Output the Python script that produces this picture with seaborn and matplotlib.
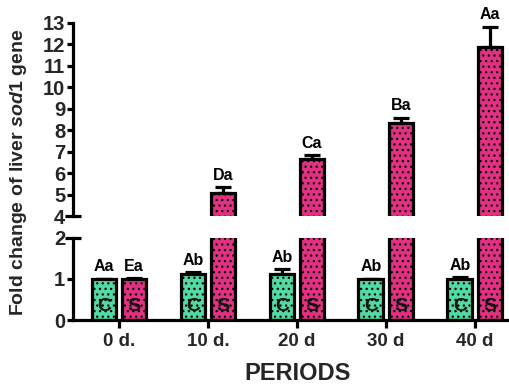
import numpy as np
import pandas as pd
import matplotlib
matplotlib.use("Agg")
import matplotlib.pyplot as plt
import seaborn as sns

# ---- data ----
periods = ["0 d.", "10 d.", "20 d", "30 d", "40 d"]
groups = ["C", "S"]
c_means = [1.00, 1.11, 1.11, 1.00, 1.00]
c_errs = [0.01, 0.06, 0.14, 0.01, 0.05]
s_means = [1.00, 5.05, 6.66, 8.35, 11.87]
s_errs = [0.02, 0.30, 0.20, 0.24, 0.96]
c_letters = ["Aa", "Ab", "Ab", "Ab", "Ab"]
s_letters = ["Ea", "Da", "Ca", "Ba", "Aa"]
upper_ticks = [5, 6, 7, 8, 9, 10, 11, 12, 13]
lower_ticks = [0, 1]

sns.set_theme(style="white")
plt.rcParams["font.family"] = ["Liberation Sans", "DejaVu Sans"]
plt.rcParams["font.weight"] = "bold"
plt.rcParams["mathtext.fontset"] = "custom"
plt.rcParams["mathtext.it"] = "Liberation Sans:bold:italic"
plt.rcParams["mathtext.rm"] = "Liberation Sans:bold"
plt.rcParams["hatch.linewidth"] = 0.9

df = pd.DataFrame({
    "period": periods * 2,
    "group": ["C"] * 5 + ["S"] * 5,
    "value": c_means + s_means,
})
palette = {"C": "#3cf0a8", "S": "#ff1480"}

W, H = 510, 387
fig = plt.figure(figsize=(W / 100, H / 100), dpi=100)
left = 73 / W
right = 507 / W
ax_up = fig.add_axes([left, 1 - 216 / H, right - left, (216 - 23) / H])
ax_lo = fig.add_axes([left, 1 - 320 / H, right - left, (320 - 238) / H])

lw = 2.3
for ax in (ax_up, ax_lo):
    sns.barplot(data=df, x="period", y="value", hue="group", palette=palette,
                width=0.675, gap=0.17, edgecolor="black", linewidth=lw,
                errorbar=None, legend=False, ax=ax, zorder=2)
    for p in ax.patches:
        p.set_hatch("...")
    ax.set_xlim(-0.517, 4.36)
    ax.set_xlabel("")
    ax.set_ylabel("")
    for s in ("top", "right"):
        ax.spines[s].set_visible(False)
    ax.spines["left"].set_linewidth(lw)
    ax.spines["bottom"].set_linewidth(lw)
    ax.spines["left"].set_color("black")
    ax.spines["bottom"].set_color("black")

n = len(periods)
means_all = c_means + s_means
errs_all = c_errs + s_errs
letters_all = c_letters + s_letters
for ax in (ax_up, ax_lo):
    pats = ax.patches[:2 * n]
    xs = [p.get_x() + p.get_width() / 2 for p in pats]
    ax.errorbar(xs, means_all, yerr=[np.zeros(2 * n), errs_all], fmt="none",
                ecolor="black", elinewidth=lw, capsize=5.5, capthick=lw, zorder=1)

xs_all = [p.get_x() + p.get_width() / 2 for p in ax_lo.patches[:2 * n]]
for x, m, e, t in zip(xs_all, means_all, errs_all, letters_all):
    ax = ax_up if m + e > 2 else ax_lo
    ax.annotate(t, (x, m + e), xytext=(0, 3), textcoords="offset points",
                ha="center", va="bottom", fontsize=11.5, fontweight="bold",
                color="black", annotation_clip=False)
for i, x in enumerate(xs_all):
    ax_lo.text(x, 0.32, groups[i // n], ha="center", va="center",
               fontsize=14, fontweight="bold", color="#111111", zorder=3)

# upper axes
ax_up.set_ylim(4, 13)
ax_up.set_yticks(upper_ticks)
ax_up.set_yticks([4], labels=["4"], minor=True)
ax_up.spines["bottom"].set_visible(False)
ax_up.tick_params(axis="x", bottom=False, labelbottom=False)

# lower axes
ax_lo.set_ylim(0, 2)
ax_lo.set_yticks(lower_ticks)
ax_lo.set_yticks([2], labels=["2"], minor=True)
ax_lo.set_xticks(range(n), labels=periods)

for ax in (ax_up, ax_lo):
    ax.tick_params(axis="y", which="major", left=True, direction="out", length=4.5,
                   width=lw, color="black", labelsize=14.5, pad=1)
    ax.tick_params(axis="y", which="minor", left=True, direction="inout", length=11,
                   width=lw, color="black", labelsize=14.5, pad=0)
    for lab in ax.get_yticklabels(which="both"):
        lab.set_fontweight("bold")
ax_lo.tick_params(axis="x", bottom=True, direction="out", length=6, width=lw,
                  color="black", labelsize=13.5, pad=3)
for lab in ax_lo.get_xticklabels():
    lab.set_fontweight("bold")

fig.text(19 / W, 1 - 172 / H, r"Fold change of liver $\mathit{sod1}$ gene",
         rotation=90, ha="center", va="center", fontsize=14, fontweight="bold")
fig.text(298 / W, 1 - 373 / H, "PERIODS", ha="center", va="center",
         fontsize=17, fontweight="bold")

fig.savefig("out.png", dpi=100)
